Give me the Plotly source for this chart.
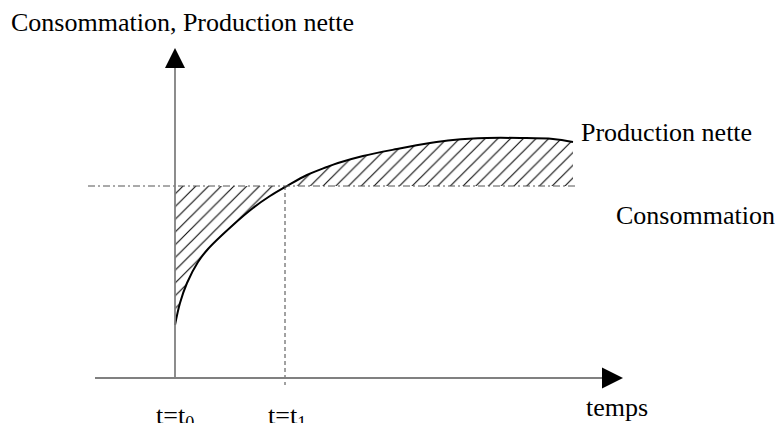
import plotly.graph_objects as go

# ---- data (time units from t0, arbitrary value units) ----
t_values = [0, 5, 12, 23, 33, 58, 78, 95, 112, 132, 152, 163, 188, 222, 255, 278, 312, 345, 378, 398]
production = [53, 75, 95, 116, 129, 153, 170, 182, 192, 203, 211, 215, 222, 229, 235, 238, 240, 240, 239, 236]
consumption = 192
t0 = 0
t1 = 110
t_labels = ["t=t<sub>0</sub>", "t=t<sub>1</sub>"]
cons_extent = [-87, 403]

# axis geometry
x_axis_start, x_axis_tip = -80, 448
y_axis_tip = 330
v_line_bottom = -7

FONT = "Liberation Serif"
fig = go.Figure()

# hatched area between consumption and production
fig.add_trace(go.Scatter(x=[t_values[0], t_values[-1]], y=[consumption, consumption],
                         mode="lines", line=dict(width=0, color="rgba(0,0,0,0)"),
                         hoverinfo="skip"))
fig.add_trace(go.Scatter(x=t_values, y=production, mode="lines",
                         line=dict(color="black", width=2, shape="spline", smoothing=1),
                         fill="tonexty", fillcolor="rgba(0,0,0,0)",
                         fillpattern=dict(shape="/", size=9, solidity=0.13,
                                          fgcolor="#111111", bgcolor="rgba(0,0,0,0)",
                                          fillmode="replace"),
                         hoverinfo="skip"))

# consumption dashed line
fig.add_trace(go.Scatter(x=cons_extent, y=[consumption, consumption], mode="lines",
                         line=dict(color="#555555", width=1, dash="7px,3px,2px,3px"),
                         hoverinfo="skip"))
# vertical dashed at t1
fig.add_trace(go.Scatter(x=[t1, t1], y=[consumption, v_line_bottom], mode="lines",
                         line=dict(color="#444444", width=1, dash="4px,3px"),
                         hoverinfo="skip"))

# axes
fig.add_trace(go.Scatter(x=[t0, t0], y=[0, y_axis_tip - 18], mode="lines",
                         line=dict(color="#808080", width=1.8), hoverinfo="skip"))
fig.add_trace(go.Scatter(x=[x_axis_start, x_axis_tip - 18], y=[0, 0], mode="lines",
                         line=dict(color="#808080", width=1.8), hoverinfo="skip"))
fig.add_trace(go.Scatter(x=[t0], y=[y_axis_tip], mode="markers",
                         marker=dict(symbol="arrow-up", size=20, color="black"),
                         hoverinfo="skip"))
fig.add_trace(go.Scatter(x=[x_axis_tip], y=[0], mode="markers",
                         marker=dict(symbol="arrow-right", size=21, color="black"),
                         hoverinfo="skip"))

ann = [
    dict(x=-166, y=356, text="Consommation, Production nette", xanchor="left", yanchor="middle"),
    dict(x=404, y=246, text="Production nette", xanchor="left", yanchor="middle"),
    dict(x=439, y=163, text="Consommation", xanchor="left", yanchor="middle"),
    dict(x=442, y=-29, text="temps", xanchor="center", yanchor="middle"),
    dict(x=t0, y=-39, text=t_labels[0], xanchor="center", yanchor="middle"),
    dict(x=t1 + 2, y=-39, text=t_labels[1], xanchor="center", yanchor="middle"),
]
for a in ann:
    fig.add_annotation(xref="x", yref="y", showarrow=False,
                       font=dict(family=FONT, size=26, color="black"), **a)

fig.update_layout(
    width=775, height=423, margin=dict(l=0, r=0, t=0, b=0),
    paper_bgcolor="white", plot_bgcolor="white", showlegend=False,
    xaxis=dict(range=[-175, 600], visible=False, fixedrange=True),
    yaxis=dict(range=[-45, 378], visible=False, fixedrange=True),
)
fig.write_html("out.html", config={"displayModeBar": False},
               post_script="document.body.style.margin='0';")
